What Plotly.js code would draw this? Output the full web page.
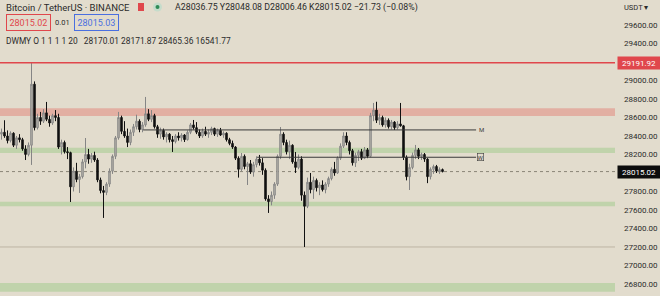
<!DOCTYPE html>
<html>
<head>
<meta charset="utf-8">
<script src="https://cdn.plot.ly/plotly-3.0.1.min.js"></script>
<style>
html,body{margin:0;padding:0;background:#e2dccd;}
#chart{width:660px;height:296px;}
</style>
</head>
<body>
<div id="chart"></div>
<script>
// ---- data ----
const openP = [28420,28440,28400,28350,28430,28300,28380,28360,28260,28200,
28300,28960,28490,28600,28560,28650,28580,28540,28620,28600,
28280,28330,28230,28220,27850,28020,27930,27960,28120,28200,
28150,28190,28140,27925,27810,27790,27880,28020,28180,28380,
28600,28450,28400,28330,28440,28500,28560,28470,28520,28640,
28580,28620,28500,28420,28460,28390,28420,28360,28340,28400,
28380,28410,28360,28440,28520,28490,28440,28400,28450,28420,
28440,28480,28420,28460,28410,28430,28360,28320,28280,28160,
28040,28180,28070,28100,28010,28090,28150,28110,28030,27720,
27690,27760,27880,28180,28420,28330,28230,28300,28120,28060,
28150,27760,27640,27900,27820,27920,27840,27870,27820,27880,
27940,28040,28000,28160,28290,28400,28330,28240,28110,28190,
28230,28160,28250,28180,28620,28680,28570,28600,28520,28570,
28500,28550,28490,28530,28510,28170,27960,28060,28190,28250,
28180,28200,28150,27960,28040,28070,28020,28036.75];
const highP = [28480,28570,28460,28450,28440,28400,28420,28380,28300,28330,
29191.92,28990,28640,28660,28690,28768,28620,28640,28680,28640,
28360,28350,28280,28230,28060,28110,27990,28150,28378,28260,
28216,28230,28160,27950,27860,27900,28050,28200,28400,28660,
28620,28560,28480,28470,28530,28630,28580,28550,28822,28690,
28680,28640,28520,28490,28480,28440,28430,28400,28420,28440,
28430,28420,28460,28540,28573,28550,28470,28480,28500,28470,
28500,28490,28480,28487,28450,28440,28380,28350,28290,28180,
28216,28200,28120,28140,28120,28180,28195,28160,28050,27760,
27800,27900,28200,28497,28440,28360,28350,28310,28227,28200,
28180,27800,27950,28000,27960,27940,27900,27920,27900,27960,
28060,28120,28180,28320,28440,28440,28350,28260,28220,28250,
28260,28280,28270,28650,28757,28770,28640,28620,28600,28590,
28573,28560,28560,28757,28520,28190,28100,28220,28303,28270,
28220,28216,28160,28060,28090,28087,28060,28048.08];
const lowP = [28360,28380,28320,28330,28280,28260,28330,28240,28140,28180,
28087,28460,28470,28520,28540,28560,28500,28520,28560,28260,
28200,28210,28150,27686,27800,27900,27784,27940,28050,28100,
28110,28120,27900,27780,27514,27760,27850,27990,28150,28360,
28420,28380,28280,28300,28400,28470,28440,28440,28500,28560,
28550,28480,28380,28370,28360,28330,28330,28227,28320,28350,
28340,28335,28350,28420,28470,28420,28378,28380,28400,28380,
28410,28400,28390,28400,28380,28340,28300,28260,28140,27950,
28020,28040,27870,27990,27960,28060,28080,27980,27700,27568,
27650,27720,27860,28150,28300,28200,28150,28100,28000,28040,
27700,27200,27620,27780,27720,27800,27760,27800,27780,27850,
27920,27970,27990,28140,28270,28300,28200,28080,28065,28130,
28140,28150,28160,28170,28560,28540,28520,28500,28490,28480,
28470,28465,28470,28500,28140,27920,27816,28040,28150,28150,
28140,28120,27890,27930,27990,28000,27990,28006.46];
const closeP = [28440,28400,28350,28430,28300,28380,28360,28260,28200,28300,
28960,28490,28600,28560,28650,28580,28540,28620,28600,28280,
28330,28230,28220,27850,28020,27930,27960,28120,28200,28150,
28190,28140,27925,27810,27790,27880,28020,28180,28380,28600,
28450,28400,28330,28440,28500,28560,28470,28520,28640,28580,
28620,28500,28420,28460,28390,28420,28360,28340,28400,28380,
28410,28360,28440,28520,28490,28440,28400,28450,28420,28440,
28480,28420,28460,28410,28430,28360,28320,28280,28160,28040,
28180,28070,28100,28010,28090,28150,28110,28030,27720,27690,
27760,27880,28180,28420,28330,28230,28300,28120,28060,28150,
27760,27640,27900,27820,27920,27840,27870,27820,27880,27940,
28040,28000,28160,28290,28400,28330,28240,28110,28190,28230,
28160,28250,28180,28620,28680,28570,28600,28520,28570,28500,
28550,28490,28530,28510,28170,27960,28060,28190,28250,28180,
28200,28150,27960,28040,28070,28020,28036.75,28015.02];

const redLevel = 29191.92;
const lastPrice = 28015.02;
const lowLine = 27200;
const redZone = [28615, 28700];
const greenZones = [[28215, 28272], [27640, 27690], [26715, 26810]];
const mLevel = 28465.36;
const wLevel = 28170.01;
const tickVals = [29600,29400,29000,28800,28600,28400,28200,27800,27600,27400,27200,27000,26800];
const tickText = tickVals.map(v => v.toFixed(2));

const header = "Bitcoin / TetherUS · BINANCE";
const ohlcText = "A28036.75 Y28048.08 D28006.46 K28015.02 −21.73 (−0.08%)";
const bidAsk = ["28015.02", "0.01", "28015.03"];
const studyText = "DWMY O 1 1 1 1 20   28170.01 28171.87 28465.36 16541.77";

const xIdx = closeP.map((_, i) => i);

const W = 615, H = 296;
const px = x => x / W;          // pixel -> paper x
const py = y => 1 - y / H;      // pixel -> paper y
const FONT = "Roboto, 'Open Sans', sans-serif";
const TXT = "#2b2b2b";

const trace = {
  type: 'candlestick', x: xIdx, open: openP, high: highP, low: lowP, close: closeP,
  increasing: {line: {color: '#858585', width: 1}, fillcolor: '#c2beb3'},
  decreasing: {line: {color: '#111111', width: 1}, fillcolor: '#111111'},
  whiskerwidth: 0, hoverinfo: 'skip', showlegend: false
};

const shapes = [];
shapes.push({type:'rect', xref:'paper', yref:'y', x0:0, x1:1, y0:redZone[0], y1:redZone[1],
  fillcolor:'rgba(226,120,110,0.45)', line:{width:0}, layer:'below'});
greenZones.forEach(z => shapes.push({type:'rect', xref:'paper', yref:'y', x0:0, x1:1, y0:z[0], y1:z[1],
  fillcolor:'rgba(150,200,130,0.45)', line:{width:0}, layer:'below'}));
shapes.push({type:'line', xref:'paper', yref:'y', x0:0, x1:1, y0:redLevel, y1:redLevel,
  line:{color:'#e0474c', width:1.5}});
shapes.push({type:'line', xref:'paper', yref:'y', x0:0, x1:1, y0:lastPrice, y1:lastPrice,
  line:{color:'#8a8578', width:1, dash:'dot'}, layer:'below'});
shapes.push({type:'line', xref:'paper', yref:'y', x0:0, x1:1, y0:lowLine, y1:lowLine,
  line:{color:'#bdb5a5', width:1}, layer:'below'});
shapes.push({type:'line', xref:'x', yref:'y', x0:47.2, x1:158.2, y0:mLevel, y1:mLevel,
  line:{color:'#3a3a3a', width:1}});
shapes.push({type:'line', xref:'x', yref:'y', x0:85.2, x1:158.2, y0:wLevel, y1:wLevel,
  line:{color:'#3a3a3a', width:1}});
// header icons
shapes.push({type:'rect', xref:'paper', yref:'paper', x0:px(138), x1:px(144), y0:py(11), y1:py(3),
  fillcolor:'#e0474c', line:{width:0}});
shapes.push({type:'circle', xref:'paper', yref:'paper', x0:px(153), x1:px(162), y0:py(11.5), y1:py(2.5),
  fillcolor:'#c5dccb', line:{width:0}});
shapes.push({type:'circle', xref:'paper', yref:'paper', x0:px(155.5), x1:px(159.5), y0:py(9), y1:py(5),
  fillcolor:'#2e8b57', line:{width:0}});

const ann = [];
const A = (o) => ann.push(Object.assign({showarrow:false, font:{family:FONT, size:8.8, color:TXT}}, o));
A({text:header, xref:'paper', yref:'paper', x:px(4), y:py(7), xanchor:'left', yanchor:'middle', font:{family:FONT, size:9.5, color:TXT}});
A({text:ohlcText, xref:'paper', yref:'paper', x:px(173), y:py(7), xanchor:'left', yanchor:'middle'});
A({text:bidAsk[0], xref:'paper', yref:'paper', x:px(6), y:py(22), xanchor:'left', yanchor:'middle',
  bordercolor:'#e0474c', borderwidth:1, borderpad:2.5, font:{family:FONT, size:9, color:'#e0474c'}});
A({text:bidAsk[1], xref:'paper', yref:'paper', x:px(53), y:py(22), xanchor:'left', yanchor:'middle', font:{family:FONT, size:7.5, color:TXT}});
A({text:bidAsk[2], xref:'paper', yref:'paper', x:px(74), y:py(22), xanchor:'left', yanchor:'middle',
  bordercolor:'#4a6fe0', borderwidth:1, borderpad:2.5, font:{family:FONT, size:9, color:'#4a6fe0'}});
A({text:studyText, xref:'paper', yref:'paper', x:px(4), y:py(41), xanchor:'left', yanchor:'middle', font:{family:FONT, size:8.4, color:TXT}});
A({text:'USDT ▾', xref:'paper', yref:'paper', x:px(622), y:py(7), xanchor:'left', yanchor:'middle', font:{family:FONT, size:7.5, color:TXT}});
A({text:'M', xref:'x', yref:'y', x:158.5, y:mLevel, xanchor:'left', yanchor:'middle', font:{family:FONT, size:6, color:'#3a3a3a'}});
A({text:'W', xref:'x', yref:'y', x:158.5, y:wLevel, xanchor:'left', yanchor:'middle', font:{family:FONT, size:6, color:'#3a3a3a'},
  bordercolor:'#3a3a3a', borderwidth:0.6, borderpad:0});
A({text:redLevel.toFixed(2), xref:'paper', yref:'y', x:px(617), y:redLevel, xanchor:'left', yanchor:'middle',
  bgcolor:'#e0474c', width:39, borderpad:1.5, font:{family:FONT, size:8, color:'#ffffff'}});
A({text:lastPrice.toFixed(2), xref:'paper', yref:'y', x:px(617), y:lastPrice, xanchor:'left', yanchor:'middle',
  bgcolor:'#0d0d0d', width:39, borderpad:1.5, font:{family:FONT, size:8, color:'#ffffff'}});

const layout = {
  width:660, height:296,
  margin:{l:0, r:45, t:0, b:0},
  paper_bgcolor:'#e2dccd', plot_bgcolor:'#e2dccd',
  showlegend:false, dragmode:false,
  xaxis:{range:[-0.5, 204.5], visible:false, rangeslider:{visible:false}, fixedrange:true},
  yaxis:{range:[26670, 29870], side:'right', showgrid:false, zeroline:false, showline:false,
    tickvals:tickVals, ticktext:tickText, ticks:'', ticklabelstandoff:8,
    tickfont:{family:FONT, size:8, color:TXT}, fixedrange:true},
  shapes:shapes, annotations:ann
};
Plotly.newPlot('chart', [trace], layout, {displayModeBar:false, staticPlot:true});
</script>
</body>
</html>
